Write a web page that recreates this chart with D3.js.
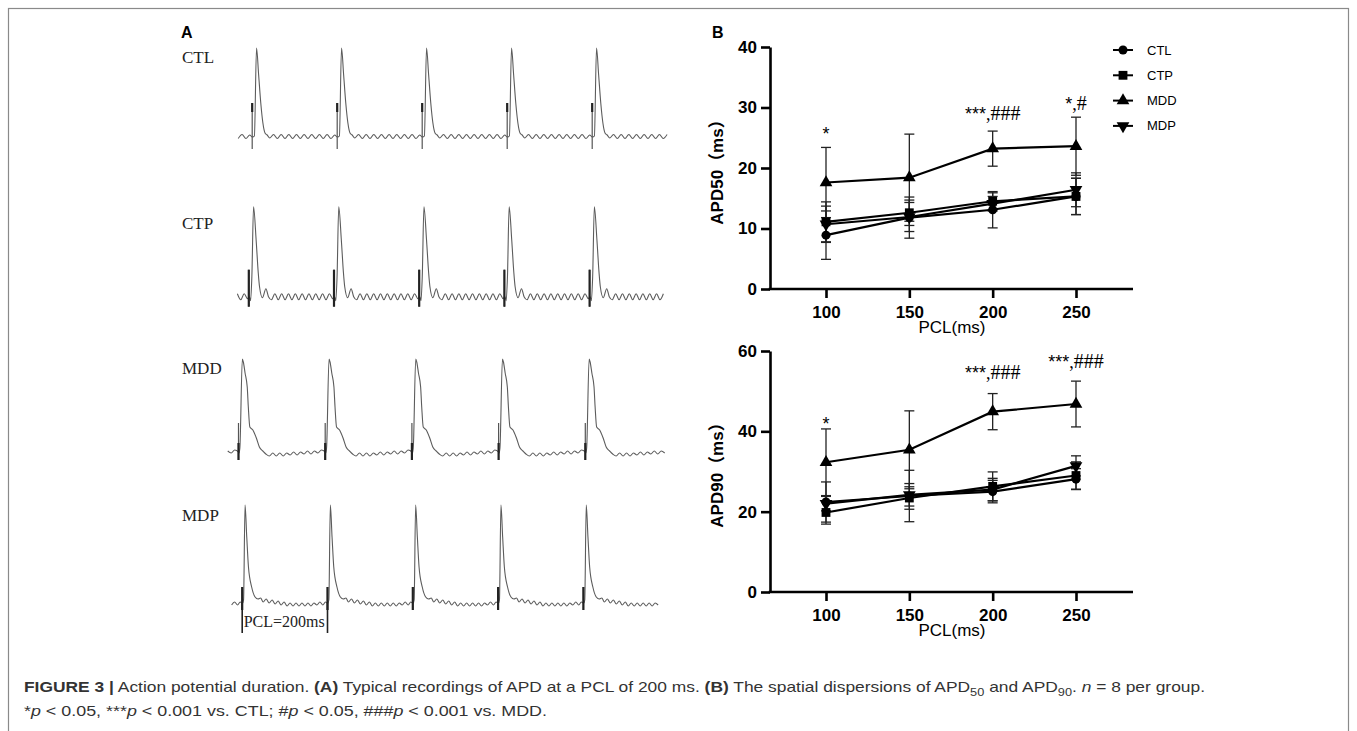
<!DOCTYPE html>
<html>
<head>
<meta charset="utf-8">
<script src="https://cdn.jsdelivr.net/npm/d3@7"></script>
<style>
body { margin: 0; background: #fff; }
svg { display: block; }
</style>
</head>
<body>
<div id="fig"></div>
<script>
// ---------- panel B data ----------
var pcl = [100, 150, 200, 250];
var groups = ['CTL', 'CTP', 'MDD', 'MDP'];

var ctl50 = [8.9, 11.8, 13.1, 15.3];
var ctl50Sd = [4.0, 3.4, 3.0, 3.0];
var ctp50 = [11.1, 12.6, 14.5, 15.3];
var ctp50Sd = [3.3, 2.1, 1.4, 3.0];
var mdd50 = [17.6, 18.4, 23.2, 23.6];
var mdd50Sd = [5.8, 7.2, 2.9, 4.8];
var mdp50 = [10.7, 11.9, 14.1, 16.4];
var mdp50Sd = [3.0, 2.4, 1.2, 2.8];

var ctl90 = [22.4, 23.9, 25.0, 28.1];
var ctl90Sd = [5.0, 6.4, 2.8, 2.6];
var ctp90 = [19.8, 23.4, 26.3, 29.0];
var ctp90Sd = [2.9, 2.8, 3.6, 3.4];
var mdd90 = [32.3, 35.4, 44.9, 46.8];
var mdd90Sd = [8.3, 9.7, 4.5, 5.7];
var mdp90 = [22.0, 24.2, 25.5, 31.4];
var mdp90Sd = [1.8, 2.8, 2.8, 2.5];

var apd50Ticks = [0, 10, 20, 30, 40];
var apd90Ticks = [0, 20, 40, 60];

// significance marks: [pcl, value at text baseline, stars, hashes]
var apd50Marks = [[100, 24.6, '*', ''], [200, 27.9, '***', '###'], [250, 29.6, '*', '#']];
var apd90Marks = [[100, 40.4, '*', ''], [200, 53.0, '***', '###'], [250, 55.8, '***', '###']];

// ---------- panel A recordings: one beat template each, [ms after stimulus, amplitude] ----------
var ctlBeat = [[0,0],[4,1],[9,89],[14,62],[19,34],[24,14],[29,4],[34,2],[40,-1],[49,2.5],[58,-1.5],[67,2.5],[76,-1.5],[85,2.5],[94,-1.5],[103,2.5],[112,-1.5],[121,2.5],[130,-1.5],[139,2.5],[148,-1.5],[157,2.5],[166,-1.5],[175,2.5],[184,-1.5],[193,2],[199,0]];
var ctpBeat = [[0,0],[3,-4],[6,20],[10,90],[16,57],[21,24],[24,10],[31,-1],[39,8],[45,0],[52,-3],[60,3],[68,-3],[76,3],[84,-3],[92,3],[100,-3],[108,3],[116,-3],[124,3],[132,-3],[140,3],[148,-3],[156,3],[164,-3],[172,3],[180,-3],[188,3],[196,-2],[199,0]];
var mddBeat = [[0,0],[2,5],[7.7,94],[10,91],[14,80],[19,66],[21.5,46],[25,26],[32,23],[40,15],[47,6],[55,2],[62,-1],[70,-3],[78,0],[86,-3],[94,0],[102,-3],[110,0],[118,-2],[126,1],[134,-2],[142,1],[150,-1],[158,2],[166,-1],[174,2],[182,0],[190,3],[199,1]];
var mdpBeat = [[0,0],[2,3],[5.5,98],[9.5,66],[13.5,36],[21,16],[29,6],[36,4],[42,5],[48,1],[55,4],[62,0],[69,3],[76,-1],[83,2],[90,-2],[97,1],[104,-3],[111,0],[118,-3],[125,0],[132,-3],[139,0],[146,-3],[153,0],[160,-3],[167,0],[174,-2],[181,1],[188,-2],[194,1],[199,0]];
var stimOnsets = [0, 200, 400, 600, 800];
// [start ms, end ms] of each recording
var traceSpans = [[-39, 977], [-29, 975], [-30, 983], [-29, 978]];
// stimulus artefact: [bottom, top, dark bottom, dark top] in amplitude units
var stimArtefact = [[-12, 34, 25, 34], [-10, 27, -10, 27], [-7, 30, -7, 10], [-7, 16, -7, 16]];

// ---------- layout ----------
var W = 1357, H = 731;
var svg = d3.select('#fig').append('svg').attr('width', W).attr('height', H);
var sans = 'Liberation Sans, Arial, Helvetica, sans-serif';
var serif = 'Liberation Serif, Times New Roman, serif';

svg.append('rect')
    .attr('x', 8.5).attr('y', 8.5).attr('width', 1340).attr('height', 740)
    .attr('fill', 'none').attr('stroke', '#8a8a8a').attr('stroke-width', 1.2);

svg.append('text').attr('x', 181).attr('y', 38).text('A')
    .style('font-family', sans).style('font-weight', 'bold').style('font-size', '16px');
svg.append('text').attr('x', 712).attr('y', 38).text('B')
    .style('font-family', sans).style('font-weight', 'bold').style('font-size', '16px');

// ---------- panel A ----------
var beats = [ctlBeat, ctpBeat, mddBeat, mdpBeat];
var rowBase = [137, 296.7, 453, 603];
var rowStart = [252.7, 249.3, 239, 242.7];
var rowPeriod = [85, 85.2, 86.7, 85.3];
var rowLabelY = [63, 229, 374, 521];

groups.forEach(function(g, r) {
    var x = d3.scaleLinear().domain([0, 800]).range([rowStart[r], rowStart[r] + 4 * rowPeriod[r]]);
    var y = d3.scaleLinear().domain([0, 100]).range([rowBase[r], rowBase[r] - 100]);
    var span = traceSpans[r];
    var pts = [];
    for (var k = -1; k < stimOnsets.length; k++) {
        var t0 = k * 200;
        beats[r].forEach(function(p) {
            var t = t0 + p[0];
            if (t >= span[0] && t <= span[1]) pts.push([t, p[1]]);
        });
    }
    var line = d3.line().curve(d3.curveMonotoneX)
        .x(function(d) { return x(d[0]); })
        .y(function(d) { return y(d[1]); });

    var row = svg.append('g').attr('class', 'trace');
    row.append('path').attr('d', line(pts))
        .attr('fill', 'none').attr('stroke', '#5c5c5c').attr('stroke-width', 1.1);

    var a = stimArtefact[r];
    stimOnsets.forEach(function(t) {
        row.append('line').attr('x1', x(t) - 0.5).attr('x2', x(t) - 0.5)
            .attr('y1', y(a[0])).attr('y2', y(a[1]))
            .attr('stroke', '#555').attr('stroke-width', 1.2);
        row.append('line').attr('x1', x(t) - 0.5).attr('x2', x(t) - 0.5)
            .attr('y1', y(a[2])).attr('y2', y(a[3]))
            .attr('stroke', '#222').attr('stroke-width', 2.2);
    });

    svg.append('text').attr('x', 182).attr('y', rowLabelY[r]).text(g)
        .style('font-family', serif).style('font-size', '17px').attr('fill', '#222');

    if (g === 'MDP') {
        // PCL bracket under the first two beats
        [0, 200].forEach(function(t) {
            row.append('line').attr('x1', x(t) - 0.5).attr('x2', x(t) - 0.5)
                .attr('y1', y(0)).attr('y2', y(-30))
                .attr('stroke', '#222').attr('stroke-width', 1.6);
        });
        row.append('text').attr('x', x(0) + 1).attr('y', y(-24)).text('PCL=200ms')
            .style('font-family', serif).style('font-size', '16px').attr('fill', '#222');
    }
});

// ---------- panel B ----------
var shapes = [d3.symbolCircle, d3.symbolSquare, d3.symbolTriangle, d3.symbolTriangle];
var shapeSize = [64, 78, 70, 70];
var shapeRot = [0, 0, 0, 180];

function drawPanel(cfg) {
    var x = d3.scaleLinear().domain([66.4, 284.2]).range([770, 1133]);
    var y = d3.scaleLinear().domain(cfg.yDomain).range(cfg.yRange);
    var g = svg.append('g');

    var xAxis = g.append('g').attr('transform', 'translate(0,' + cfg.yRange[0] + ')')
        .call(d3.axisBottom(x).tickValues(pcl).tickSize(9).tickSizeOuter(0).tickPadding(8));
    var yAxis = g.append('g').attr('transform', 'translate(770,0)')
        .call(d3.axisLeft(y).tickValues(cfg.ticks).tickSize(9).tickSizeOuter(0).tickPadding(4));
    [xAxis, yAxis].forEach(function(ax) {
        ax.selectAll('path, line').attr('stroke', '#000').attr('stroke-width', 2.6);
        ax.selectAll('text').attr('fill', '#000')
            .style('font-family', sans).style('font-weight', 'bold').style('font-size', '17px');
    });
    xAxis.select('.domain').attr('d', 'M' + (770 - 1.3) + ',0H1133');

    g.append('text').attr('x', 952).attr('y', cfg.yRange[0] + 44).attr('text-anchor', 'middle')
        .text('PCL(ms)').style('font-family', sans).style('font-size', '17px');
    g.append('text')
        .attr('transform', 'translate(723,' + cfg.titleY + ') rotate(-90)')
        .attr('text-anchor', 'middle').text(cfg.title)
        .style('font-family', sans + ', Noto Sans CJK SC').style('font-weight', 'bold').style('font-size', '17px');

    var line = d3.line().x(function(d) { return x(d.p); }).y(function(d) { return y(d.v); });

    cfg.series.forEach(function(s) {
        var pts = pcl.map(function(p, i) { return { p: p, v: s.mean[i], sd: s.sd[i] }; });
        var eb = g.append('g');
        pts.forEach(function(d) {
            eb.append('line').attr('x1', x(d.p)).attr('x2', x(d.p))
                .attr('y1', y(d.v - d.sd)).attr('y2', y(d.v + d.sd));
            [d.v - d.sd, d.v + d.sd].forEach(function(v) {
                eb.append('line').attr('x1', x(d.p) - 5).attr('x2', x(d.p) + 5)
                    .attr('y1', y(v)).attr('y2', y(v));
            });
        });
        eb.selectAll('line').attr('stroke', '#222').attr('stroke-width', 1.3);
    });
    cfg.series.forEach(function(s) {
        var pts = pcl.map(function(p, i) { return { p: p, v: s.mean[i] }; });
        g.append('path').attr('d', line(pts)).attr('fill', 'none')
            .attr('stroke', '#000').attr('stroke-width', 2.2);
    });
    cfg.series.forEach(function(s, k) {
        pcl.forEach(function(p, i) {
            g.append('path')
                .attr('d', d3.symbol().type(shapes[k]).size(shapeSize[k])())
                .attr('transform', 'translate(' + x(p) + ',' + y(s.mean[i]) + ') rotate(' + shapeRot[k] + ')')
                .attr('fill', '#000');
        });
    });

    cfg.marks.forEach(function(m) {
        var t = g.append('text').attr('x', x(m[0])).attr('y', y(m[1])).attr('text-anchor', 'middle');
        t.append('tspan').text(m[2]).style('font-family', sans).style('font-size', '18px');
        if (m[3]) {
            t.append('tspan').text(',').style('font-family', serif).style('font-size', '18px');
            t.append('tspan').text(m[3]).style('font-family', serif).style('font-size', '20px');
        }
    });

    if (cfg.legend) {
        groups.forEach(function(name, k) {
            var ly = 50 + k * 25.3;
            g.append('line').attr('x1', 1113).attr('x2', 1133).attr('y1', ly).attr('y2', ly)
                .attr('stroke', '#000').attr('stroke-width', 2);
            g.append('path')
                .attr('d', d3.symbol().type(shapes[k]).size(shapeSize[k])())
                .attr('transform', 'translate(1123,' + ly + ') rotate(' + shapeRot[k] + ')')
                .attr('fill', '#000');
            g.append('text').attr('x', 1147).attr('y', ly).attr('dy', '0.35em').text(name)
                .style('font-family', sans).style('font-size', '13px');
        });
    }
}

drawPanel({
    yDomain: [0, 40], yRange: [289, 47], ticks: apd50Ticks, title: 'APD50（ms）', titleY: 168,
    series: [
        { mean: ctl50, sd: ctl50Sd }, { mean: ctp50, sd: ctp50Sd },
        { mean: mdd50, sd: mdd50Sd }, { mean: mdp50, sd: mdp50Sd }
    ],
    marks: apd50Marks, legend: true
});
drawPanel({
    yDomain: [0, 60], yRange: [592, 351], ticks: apd90Ticks, title: 'APD90（ms）', titleY: 471,
    series: [
        { mean: ctl90, sd: ctl90Sd }, { mean: ctp90, sd: ctp90Sd },
        { mean: mdd90, sd: mdd90Sd }, { mean: mdp90, sd: mdp90Sd }
    ],
    marks: apd90Marks, legend: false
});

// ---------- caption ----------
var capFont = 'Liberation Sans Narrow, Arial Narrow, ' + sans;
var capRow1 = [['FIGURE 3 |', 'b'], [' Action potential duration. ', ''], ['(A)', 'b'],
    [' Typical recordings of APD at a PCL of 200 ms. ', ''], ['(B)', 'b'],
    [' The spatial dispersions of APD', ''], ['50', 'sub'], [' and APD', ''], ['90', 'sub'],
    ['. ', ''], ['n', 'i'], [' = 8 per group.', '']];
var capRow2 = [['*', ''], ['p', 'i'], [' < 0.05, ***', ''], ['p', 'i'], [' < 0.001 vs. CTL; #', ''],
    ['p', 'i'], [' < 0.05, ###', ''], ['p', 'i'], [' < 0.001 vs. MDD.', '']];

function caption(parts, yPos, width) {
    var t = svg.append('text').attr('x', 24).attr('y', yPos)
        .style('font-family', capFont).style('font-size', '15px').attr('fill', '#333')
        .attr('textLength', width).attr('lengthAdjust', 'spacingAndGlyphs');
    var shifted = false;
    parts.forEach(function(p) {
        var s = t.append('tspan').text(p[0]);
        if (p[1] === 'b') s.style('font-weight', 'bold');
        if (p[1] === 'i') s.style('font-style', 'italic');
        if (p[1] === 'sub') { s.attr('dy', 4).style('font-size', '11px'); shifted = true; }
        else if (shifted) { s.attr('dy', -4); shifted = false; }
    });
}
caption(capRow1, 692, 1181);
caption(capRow2, 716, 523);
</script>
</body>
</html>
